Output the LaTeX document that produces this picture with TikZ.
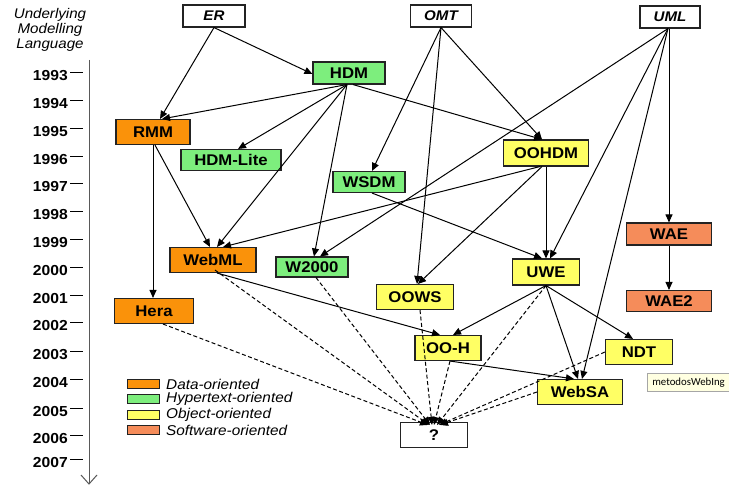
\documentclass[tikz,border=0pt]{standalone}
\usepackage{fontspec}
\setmainfont{Liberation Sans}[FakeStretch=1.08]
\newfontfamily\tipfont{Carlito}
\usetikzlibrary{arrows.meta}

\definecolor{dataC}{RGB}{250,146,10}
\definecolor{hyperC}{RGB}{125,238,125}
\definecolor{objC}{RGB}{255,255,100}
\definecolor{softC}{RGB}{245,140,90}
\definecolor{edgeC}{RGB}{35,35,35}
\definecolor{tipC}{RGB}{255,255,225}

\begin{document}
\begin{tikzpicture}[x=1pt,y=-1pt,
  box/.style={draw=edgeC,line width=1.1pt,rectangle,inner sep=0pt,
    font=\fontsize{15.5}{15.5}\selectfont\bfseries},
  lang/.style={box,fill=white,font=\fontsize{14}{14}\selectfont\bfseries\itshape},
  dataN/.style={box,fill=dataC},
  hyperN/.style={box,fill=hyperC},
  objN/.style={box,fill=objC},
  softN/.style={box,fill=softC},
  qbox/.style={box,fill=white},
  link/.style={draw=black,line width=1pt,-{Triangle[length=8pt,width=7pt]}},
  dlink/.style={link,dash pattern=on 4pt off 2.5pt},
  year/.style={anchor=east,inner sep=0pt,font=\fontsize{14.5}{14.5}\selectfont\bfseries},
  legtxt/.style={anchor=west,inner sep=0pt,font=\fontsize{14.2}{14.2}\selectfont\itshape},
  swatch/.style={draw=edgeC,line width=0.9pt,minimum width=32pt,minimum height=9pt,inner sep=0pt},
  headtxt/.style={inner sep=0pt,font=\fontsize{14}{14}\selectfont\itshape}
]
\useasboundingbox (0,0) rectangle (729,486);
\fill[white] (0,0) rectangle (729,486);

% --- header and time axis ---
\node[headtxt] (h1) at (50,15) {Underlying};
\node[headtxt] (h2) at (50,30) {Modelling};
\node[headtxt] (h3) at (50,45) {Language};

\draw[gray!70!black,line width=1pt] (89,60) -- (89,484);
\draw[gray!70!black,line width=1pt] (81,475) -- (89,484) -- (97,475);

\foreach \yr/\yy in {1993/76,1994/104,1995/132,1996/160,1997/187,1998/215,
  1999/243,2000/271,2001/299,2002/326,2003/355,2004/383,2005/412,2006/439,2007/463}{
  \node[year] (y\yr) at (68,\yy) {\yr};
  \draw[line width=1pt] (70,\yy-3) -- (83,\yy-3);
}

% --- legend ---
\node[swatch,fill=dataC]  (s1) at (143,384) {};
\node[swatch,fill=hyperC] (s2) at (143,399) {};
\node[swatch,fill=objC]   (s3) at (143,415) {};
\node[swatch,fill=softC]  (s4) at (143,430) {};
\node[legtxt] (l1) at (166,384) {Data-oriented};
\node[legtxt] (l2) at (166,399) {Hypertext-oriented};
\node[legtxt] (l3) at (166,415) {Object-oriented};
\node[legtxt] (l4) at (166,430) {Software-oriented};

% --- modelling languages ---
\node[lang,minimum width=62pt,minimum height=22pt] (ER)  at (214,16) {ER};
\node[lang,minimum width=61pt,minimum height=22pt] (OMT) at (441,16) {OMT};
\node[lang,minimum width=60pt,minimum height=22pt] (UML) at (670,17) {UML};

% --- methods ---
\node[hyperN,minimum width=72pt,minimum height=22pt]  (HDM)     at (349,73)  {HDM};
\node[dataN,minimum width=74pt,minimum height=25pt]   (RMM)     at (153,132) {RMM};
\node[hyperN,minimum width=100pt,minimum height=21pt] (HDMLite) at (231,160) {HDM-Lite};
\node[objN,minimum width=85pt,minimum height=26pt]    (OOHDM)   at (546,153) {OOHDM};
\node[hyperN,minimum width=72pt,minimum height=21pt]  (WSDM)    at (369,182) {WSDM};
\node[softN,minimum width=85pt,minimum height=22pt]   (WAE)     at (669,234) {WAE};
\node[dataN,minimum width=86pt,minimum height=25pt]   (WebML)   at (213,260) {WebML};
\node[hyperN,minimum width=72pt,minimum height=20pt]  (W2000)   at (312,267) {W2000};
\node[objN,minimum width=67pt,minimum height=26pt]    (UWE)     at (546,272) {UWE};
\node[objN,minimum width=77pt,minimum height=25pt]    (OOWS)    at (415,297) {OOWS};
\node[softN,minimum width=85pt,minimum height=21pt]   (WAE2)    at (669,301) {WAE2};
\node[dataN,minimum width=79pt,minimum height=25pt]   (Hera)    at (154,311) {Hera};
\node[objN,minimum width=66pt,minimum height=25pt]    (OOH)     at (448,348) {OO-H};
\node[objN,minimum width=67pt,minimum height=25pt]    (NDT)     at (639,352) {NDT};
\node[objN,minimum width=85pt,minimum height=25pt]    (WebSA)   at (580,392) {WebSA};
\node[qbox,minimum width=67pt,minimum height=25pt]    (Q)       at (434,435) {?};

% --- tooltip at the right edge ---
\begin{scope}
\clip (0,0) rectangle (729,486);
\node[draw=gray!70,fill=tipC,line width=0.6pt,anchor=north west,inner sep=0pt,
  minimum width=90pt,minimum height=18pt,text width=86pt,align=left,
  font=\tipfont\fontsize{10.8}{10.8}\selectfont] (tip) at (647,373) {\hspace*{3pt}metodosWebIng};
\end{scope}

% --- derivations ---
\draw[link] (ER.south) -- ([xshift=7]RMM.north);
\draw[link] (ER.south) -- ([yshift=-1]HDM.west);

\draw[link] ([xshift=-2]HDM.south) -- ([xshift=9]RMM.north);
\draw[link] ([xshift=-2]HDM.south) -- ([xshift=7]HDMLite.north);
\draw[link] ([xshift=-2]HDM.south) -- ([xshift=4]WebML.north);
\draw[link] ([xshift=-2]HDM.south) -- ([xshift=2]W2000.north);
\draw[link] ([xshift=4]HDM.south) -- ([xshift=-4]OOHDM.north);

\draw[link] (OMT.south) -- ([xshift=3]WSDM.north);
\draw[link] (OMT.south) -- ([xshift=2]OOWS.north);
\draw[link] (OMT.south) -- ([xshift=-4]OOHDM.north);

\draw[link] ([xshift=-2]UML.south) -- ([xshift=8]W2000.north);
\draw[link] ([xshift=-2]UML.south) -- ([xshift=4]UWE.north);
\draw[link] ([xshift=-2]UML.south) -- ([xshift=2]WebSA.north);
\draw[link] ([xshift=-1]UML.south) -- ([xshift=-1]UML.south |- WAE.north);
\draw[link] (WAE.south) -- (WAE2.north);

\draw[link] (RMM.south) -- (RMM.south |- Hera.north);
\draw[link] ([xshift=2]RMM.south) -- ([xshift=-3]WebML.north);

\draw[link] ([xshift=-6]OOHDM.south) -- ([xshift=10]WebML.north);
\draw[link] ([xshift=-4]OOHDM.south) -- ([xshift=3]OOWS.north);
\draw[link] (OOHDM.south) -- (UWE.north);

\draw[link] ([xshift=3]WSDM.south) -- ([xshift=-4]UWE.north);

\draw[link] ([xshift=4]WebML.south) -- ([xshift=-8]OOH.north);
\draw[link] (UWE.south) -- ([xshift=5]OOH.north);
\draw[link] (UWE.south) -- ([xshift=-2]WebSA.north);
\draw[link] (UWE.south) -- ([xshift=-6]NDT.north);
\draw[link] ([xshift=2]OOH.south) -- ([xshift=-6]WebSA.north);

% --- open questions ---
\draw[dlink] ([xshift=9]Hera.south)   -- ([xshift=-6,yshift=-3]Q.north);
\draw[dlink] ([xshift=2,yshift=3]WebML.south) -- ([xshift=-5,yshift=-3]Q.north);
\draw[dlink] ([xshift=4]W2000.south)  -- ([xshift=-4,yshift=-3]Q.north);
\draw[dlink] ([xshift=5]OOWS.south)   -- ([xshift=-2,yshift=-3]Q.north);
\draw[dlink] ([xshift=2]OOH.south)    -- ([xshift=0,yshift=-3]Q.north);
\draw[dlink] (UWE.south)              -- ([xshift=3,yshift=-3]Q.north);
\draw[dlink] (NDT.west)               -- ([xshift=5,yshift=-3]Q.north);
\draw[dlink] (WebSA.west)             -- ([xshift=6,yshift=-3]Q.north);
\end{tikzpicture}
\end{document}
